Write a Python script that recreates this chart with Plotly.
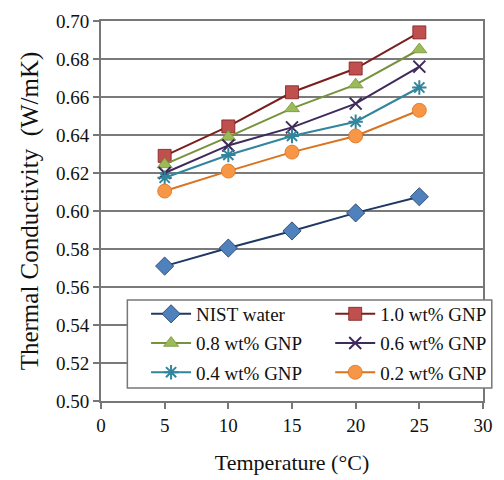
import plotly.graph_objects as go

temps = [5, 10, 15, 20, 25]
nist_water = [0.571, 0.5805, 0.5895, 0.599, 0.6075]
gnp_10 = [0.629, 0.6445, 0.6625, 0.675, 0.694]
gnp_08 = [0.6245, 0.639, 0.654, 0.6665, 0.685]
gnp_06 = [0.620, 0.6345, 0.644, 0.6565, 0.676]
gnp_04 = [0.6175, 0.6295, 0.6395, 0.647, 0.665]
gnp_02 = [0.6105, 0.621, 0.631, 0.6395, 0.653]

# name, values, symbol, fill, line colour, size, legend column
series = [
    ("NIST water", nist_water, "diamond", "#4F81BD", "#1F3864", 14, "legend"),
    ("1.0 wt% GNP", gnp_10, "square", "#C0504D", "#7B1E1E", 13, "legend2"),
    ("0.8 wt% GNP", gnp_08, "triangle-up", "#9BBB59", "#76923C", 13, "legend"),
    ("0.6 wt% GNP", gnp_06, "x-thin-open", "#3F2A5C", "#3F2A5C", 12, "legend2"),
    ("0.4 wt% GNP", gnp_04, "asterisk-open", "#31859C", "#31859C", 12, "legend"),
    ("0.2 wt% GNP", gnp_02, "circle", "#F79646", "#D9731F", 14, "legend2"),
]

font = "Liberation Serif, Times New Roman, serif"

fig = go.Figure()
for name, vals, sym, fill, line, sz, leg in series:
    open_sym = sym.endswith("open")
    fig.add_trace(go.Scatter(
        x=temps, y=vals, name=name, mode="lines+markers",
        legend=leg, legendgroup=name,
        line=dict(color=line, width=2),
        marker=dict(symbol=sym, size=sz, color=fill,
                    line=dict(color=fill if open_sym else line, width=2 if open_sym else 0.8)),
    ))

leg_common = dict(
    orientation="v", xanchor="left", yanchor="top",
    bgcolor="rgba(0,0,0,0)", borderwidth=0,
    font=dict(family=font, size=19, color="#111"),
    tracegroupgap=1.5, itemwidth=40,
)

fig.update_layout(
    width=504, height=480,
    margin=dict(l=101, r=13, t=21, b=79),
    paper_bgcolor="white", plot_bgcolor="white",
    font=dict(family=font, size=18, color="#111"),
    showlegend=True,
    legend=dict(x=0.118, y=0.279, **leg_common),
    legend2=dict(x=0.6, y=0.279, **leg_common),
    shapes=[dict(
        type="rect", xref="paper", yref="paper",
        x0=0.069, x1=1.023, y0=0.034, y1=0.266,
        fillcolor="white", line=dict(color="#777", width=1.5), layer="above",
    )],
    xaxis=dict(
        range=[0, 30], dtick=5, tick0=0, showgrid=False, automargin=False,
        showline=True, linecolor="#777", linewidth=2, mirror=True,
        ticks="outside", ticklen=6, tickcolor="#777", tickwidth=2,
        tickfont=dict(family=font, size=19, color="#111"),
        title=dict(text="Temperature (°C)", font=dict(family=font, size=22, color="#111"), standoff=20),
        zeroline=False,
    ),
    yaxis=dict(
        range=[0.50, 0.70], dtick=0.02, tick0=0.5, tickformat=".2f", automargin=False,
        showgrid=True, gridcolor="#7a7a7a", gridwidth=2,
        showline=True, linecolor="#777", linewidth=2, mirror=True,
        ticks="outside", ticklen=6, tickcolor="#777", tickwidth=2,
        tickfont=dict(family=font, size=19, color="#111"),
        title=dict(text="Thermal Conductivity  (W/mK)", font=dict(family=font, size=25, color="#111"), standoff=10),
        zeroline=False,
    ),
)

fig.write_html("out.html")
